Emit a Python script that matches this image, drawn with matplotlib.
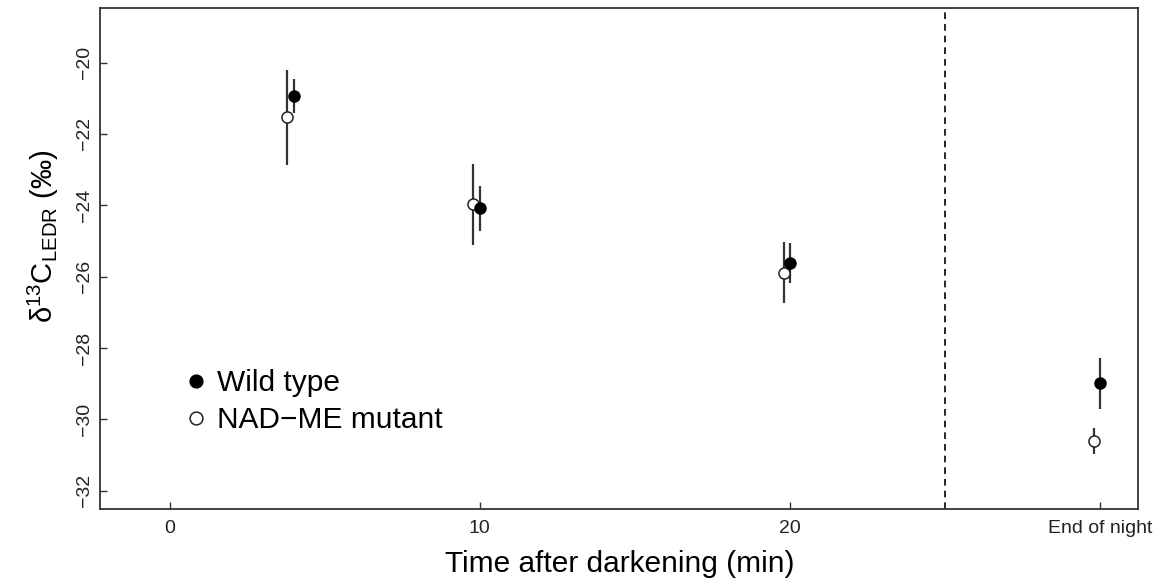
import numpy as np
import matplotlib
matplotlib.use('Agg')
import matplotlib.pyplot as plt

plt.rcParams['font.family'] = ['Liberation Sans', 'DejaVu Sans']
plt.rcParams['mathtext.fontset'] = 'custom'
plt.rcParams['mathtext.rm'] = 'Liberation Sans'

# time after darkening (min); 30 stands for "end of night"
times = np.array([4, 10, 20, 30])
tick_pos = [0, 10, 20, 30]
tick_labels = ['0', '10', '20', 'End of night']
y_ticks = [-20, -22, -24, -26, -28, -30, -32]

# wild type
wt_mean = np.array([-20.94, -24.09, -25.63, -28.99])
wt_err = np.array([0.48, 0.63, 0.56, 0.71])

# NAD-ME mutant
mut_mean = np.array([-21.54, -23.97, -25.89, -30.61])
mut_err = np.array([1.34, 1.13, 0.85, 0.36])

dodge = 0.2  # mutant drawn slightly left

fig = plt.figure(figsize=(11.59, 5.83), dpi=100)
ax = fig.add_axes([0.0863, 0.1264, 0.8960, 0.8594])

ebar_col = '#333333'
ax.errorbar(times - dodge, mut_mean, yerr=mut_err, fmt='none', ecolor=ebar_col,
            elinewidth=1.6, capsize=0, zorder=2)
ax.errorbar(times, wt_mean, yerr=wt_err, fmt='none', ecolor=ebar_col,
            elinewidth=1.6, capsize=0, zorder=2)
ax.plot(times - dodge, mut_mean, 'o', ms=8, mfc='white', mec='#222222', mew=1.1,
        ls='none', zorder=3, label='NAD\u2212ME mutant')
ax.plot(times, wt_mean, 'o', ms=8, mfc='black', mec='black', ls='none', zorder=4,
        label='Wild type')

ax.axvline(25, color='black', lw=1.2, ls=(0, (4, 3)), zorder=1)

ax.set_xlim(-2.24, 31.24)
ax.set_ylim(-32.52, -18.48)
ax.set_xticks(tick_pos)
ax.set_xticklabels(tick_labels)
ax.set_yticks(y_ticks)
ax.set_yticklabels([str(v).replace('-', '\u2212') for v in y_ticks], rotation=90, va='center')

ax.tick_params(direction='in', length=5, width=1, colors='#333333', labelsize=14,
               labelcolor='#222222')
ax.tick_params(axis='x', pad=8)
ax.tick_params(axis='y', pad=5)
for s in ax.spines.values():
    s.set_linewidth(1.3)
    s.set_color('#333333')

ax.set_xlabel('Time after darkening (min)', fontsize=21.5)
ax.xaxis.set_label_coords(0.5, -0.082)
ax.set_ylabel(r'$\mathregular{\delta^{13}C_{LEDR}}$ (‰)', fontsize=21)
ax.yaxis.set_label_coords(-0.038, 0.545)

h, l = ax.get_legend_handles_labels()
ax.legend(h[::-1], l[::-1], loc='center left', bbox_to_anchor=(0.052, 0.215),
          frameon=False, fontsize=21.5, handletextpad=0.2, labelspacing=0.3,
          handlelength=1.0, markerscale=1.15)

fig.savefig('out.png', dpi=100)
